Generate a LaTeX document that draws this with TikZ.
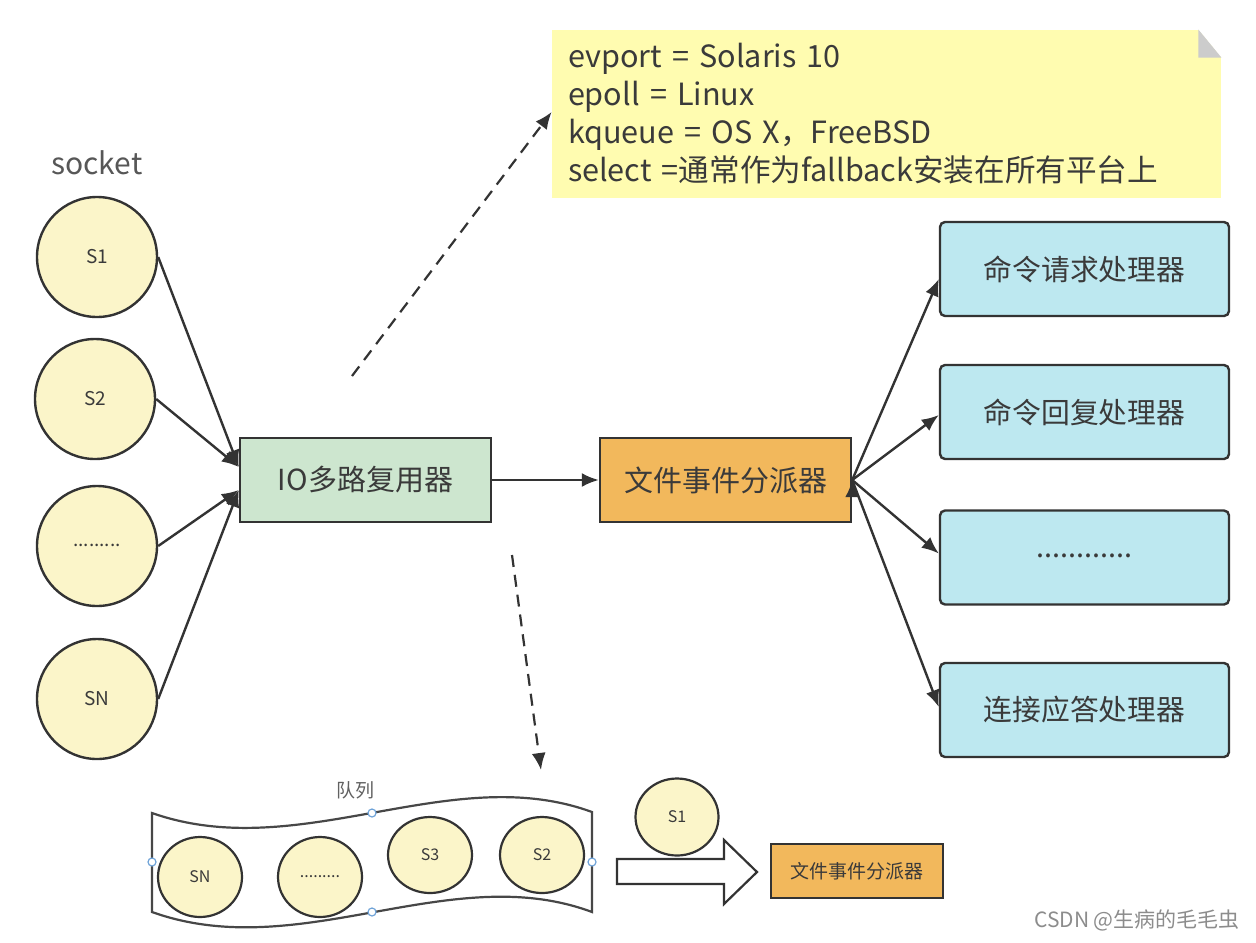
\documentclass[tikz,border=0pt]{standalone}
\usepackage{fontspec}
\setmainfont{Noto Sans CJK SC}
\usepackage{tikz}
\usetikzlibrary{arrows.meta, shapes.geometric}
\usepackage{xcolor}
\definecolor{linegrey}{HTML}{333333}
\definecolor{txtgrey}{HTML}{3A3A3A}
\definecolor{sockfill}{HTML}{FBF5C9}
\definecolor{iofill}{HTML}{CDE6CF}
\definecolor{fdfill}{HTML}{F2B85C}
\definecolor{hfill}{HTML}{BDE8F0}
\definecolor{notefill}{HTML}{FFFCB0}
\definecolor{handle}{HTML}{6FA3D8}

\begin{document}
\begin{tikzpicture}[x=0.5pt,y=-0.5pt,>={Latex[length=8.5pt,width=7pt]}]
    \tikzstyle{sock}=[shape=circle,draw=linegrey,line width=1.2pt,fill=sockfill,text=txtgrey,minimum size=60pt,inner sep=0pt,font=\fontsize{9.5}{11}\selectfont]
    \tikzstyle{qsock}=[shape=ellipse,draw=linegrey,line width=1.1pt,fill=sockfill,text=txtgrey,minimum width=42pt,minimum height=39pt,inner sep=0pt,font=\fontsize{8}{9}\selectfont]
    \tikzstyle{mainbox}=[shape=rectangle,draw=linegrey,line width=1.2pt,text=txtgrey,minimum width=125.5pt,minimum height=42pt,font=\fontsize{14.5}{16}\selectfont]
    \tikzstyle{handler}=[shape=rectangle,rounded corners=2.5pt,draw=linegrey,line width=1.2pt,fill=hfill,text=txtgrey,minimum width=144.5pt,minimum height=47pt,font=\fontsize{14.4}{16}\selectfont]
    \tikzstyle{hdl}=[shape=circle,draw=handle,fill=white,line width=0.6pt,minimum size=4pt,inner sep=0pt]

    \useasboundingbox (0,0) rectangle (1256,942);

    % sockets
    \node[text=txtgrey!85,font=\fontsize{15}{17}\selectfont] (sock) at (97,163) {socket};
    \node[sock] (S1) at (97,257) {S1};
    \node[sock] (S2) at (95,399) {S2};
    \node[sock] (Sx) at (97,546) {\raisebox{1pt}{.........}};
    \node[sock] (SN) at (97,699) {SN};

    % middle
    \node[mainbox,fill=iofill] (IO) at (365.5,480) {IO多路复用器};
    \node[mainbox,fill=fdfill] (FD) at (725.5,480) {文件事件分派器};

    % handlers
    \node[handler] (H1) at (1084.5,269) {命令请求处理器};
    \node[handler] (H2) at (1084.5,412) {命令回复处理器};
    \node[handler] (H3) at (1084.5,557.5) {\raisebox{2pt}{............}};
    \node[handler] (H4) at (1084.5,710) {连接应答处理器};

    % note
    \node[shape=rectangle,fill=notefill,minimum width=334.5pt,minimum height=84pt,inner xsep=8pt,
          text width=318.5pt,align=left,text=txtgrey,font=\fontsize{15.3}{19}\selectfont] (Note) at (886.5,114)
          {evport = Solaris 10\\ epoll = Linux\\ kqueue = OS X，FreeBSD\\ select =通常作为fallback安装在所有平台上};
    \fill[white] (Note.north east) -- ([xshift=-11.5pt]Note.north east) -- ([yshift=-14pt]Note.north east) -- cycle;
    \fill[black!20] ([xshift=-11.5pt]Note.north east) -- ([xshift=-11.5pt,yshift=-14pt]Note.north east) -- ([yshift=-14pt]Note.north east) -- cycle;

    \path[->,draw,line width=1.2pt,linegrey]
    (S1.east) edge ([yshift=6.5pt]IO.west)
    (S2.east) edge ([yshift=6.5pt]IO.west)
    (Sx.east) edge ([yshift=-5pt]IO.west)
    (SN.east) edge ([yshift=-5pt]IO.west)
    (IO) edge (FD)
    (FD.east) edge ([yshift=-5pt]H1.west)
    (FD.east) edge ([yshift=-1.5pt]H2.west)
    (FD.east) edge ([yshift=2pt]H3.west)
    (FD.east) edge ([yshift=1.5pt]H4.west)
   ;

    % dashed hints
    \coordinate (d1) at (352,376);
    \coordinate (d2) at (512,555);
    \coordinate (d3) at (541,770);
    \draw[->,dash pattern=on 6pt off 4pt,line width=1.1pt,linegrey] (d1) -- ([yshift=1pt]Note.west);
    \draw[->,dash pattern=on 6pt off 4pt,line width=1.1pt,linegrey] (d2) -- (d3);

    % queue
    \node[text=txtgrey!80,font=\fontsize{9.5}{11}\selectfont] (qlab) at (355,790) {队列};
    \draw[line width=1.1pt,linegrey!90,fill=white]
      (152,813) .. controls (300,865) and (450,760) .. (592,812)
      -- (592,912) .. controls (450,859) and (300,965) .. (152,912) -- cycle;
    \node[qsock,minimum height=40pt] (Q1) at (200,877) {SN};
    \node[qsock,minimum height=40pt] (Q2) at (320,877) {\raisebox{1pt}{.........}};
    \node[qsock,minimum height=38pt] (Q3) at (430,855) {S3};
    \node[qsock,minimum height=38pt] (Q4) at (542,855) {S2};
    \node[hdl] (h1) at (152,862) {};
    \node[hdl] (h2) at (372,813) {};
    \node[hdl] (h3) at (372,912) {};
    \node[hdl] (h4) at (592,862) {};

    % out of the queue
    \draw[line width=1.1pt,linegrey,fill=white]
      (617,859) -- (724,859) -- (724,840) -- (757,872) -- (724,904) -- (724,884) -- (617,884) -- cycle;
    \node[qsock,minimum width=41.5pt,minimum height=38.5pt] (s1) at (677,817) {S1};
    \node[shape=rectangle,draw=linegrey,line width=1.1pt,fill=fdfill,text=txtgrey,minimum width=86pt,minimum height=27pt,font=\fontsize{9.5}{11}\selectfont] (F2) at (857,871) {文件事件分派器};

    \node[text=black!45,font=\fontsize{10.5}{12}\selectfont] (wm) at (1137,920) {CSDN @生病的毛毛虫};
  \end{tikzpicture}
\end{document}
